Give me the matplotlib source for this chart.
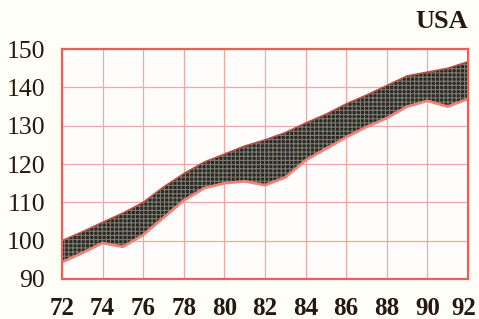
import numpy as np
import matplotlib
matplotlib.use("Agg")
from matplotlib import pyplot as plt
from matplotlib.transforms import ScaledTranslation

# years and band limits
years = [72, 73, 74, 75, 76, 77, 78, 79, 80, 81, 82, 83, 84, 85, 86, 87, 88, 89, 90, 91, 92]
upper = [100, 102.3, 104.8, 107.2, 110, 114, 117.5, 120.5, 122.6, 124.7, 126.3, 128.2,
         130.7, 133, 135.7, 138, 140.5, 143, 144, 145, 146.7]
lower = [94.4, 96.8, 99.4, 98.4, 101.5, 106, 110.5, 113.7, 115, 115.5, 114.5, 116.5,
         121, 124, 127, 129.7, 132, 135, 136.5, 135, 137]

xticks = list(range(72, 93, 2))
yticks = [90, 100, 110, 120, 130, 140, 150]

bg = "#fffef7"
red = "#e8605a"
grid = "#eaaaa6"
ink = "#24180f"

plt.rcParams["hatch.linewidth"] = 0.8
plt.rcParams["hatch.color"] = "#7c7c70"

fig = plt.figure(figsize=(4.79, 3.19), dpi=100, facecolor=bg)
ax = fig.add_axes([0.1294, 0.1254, 0.8476, 0.7206])
ax.set_facecolor("#fffdfb")

ax.fill_between(years, lower, upper, facecolor="#2a2824", hatch="++++",
                edgecolor="#7c7c70", linewidth=0, zorder=3)
ax.plot(years, upper, color="#b85048", linewidth=1.2, zorder=4)
ax.plot(years, lower, color="#f08078", linewidth=2.0, zorder=4)

ax.set_xlim(72, 92)
ax.set_ylim(90, 150)
ax.set_xticks(xticks)
ax.set_yticks(yticks)
ax.set_xticklabels([str(t) for t in xticks])
ax.set_yticklabels([str(t) for t in yticks])
ax.grid(True, color=grid, linewidth=0.9, zorder=1)
ax.tick_params(length=0, pad=13, labelsize=18, labelcolor=ink)
ax.tick_params(axis="y", pad=12, labelsize=18.5)
for lab in ax.get_xticklabels() + ax.get_yticklabels():
    lab.set_family("Liberation Serif")
for lab in ax.get_xticklabels():
    lab.set_fontweight("bold")
# last year label sits a little left so it stays inside the picture
last = ax.get_xticklabels()[-1]
last.set_transform(last.get_transform() + ScaledTranslation(-4 / 100, 0, fig.dpi_scale_trans))
for s in ax.spines.values():
    s.set_color(red)
    s.set_linewidth(1.6)
    s.set_zorder(5)

fig.text(0.977, 0.898, "USA", ha="right", va="bottom", fontsize=19, fontweight="bold",
         family="Liberation Serif", color=ink)

fig.savefig("out.png", dpi=100, facecolor=bg)
